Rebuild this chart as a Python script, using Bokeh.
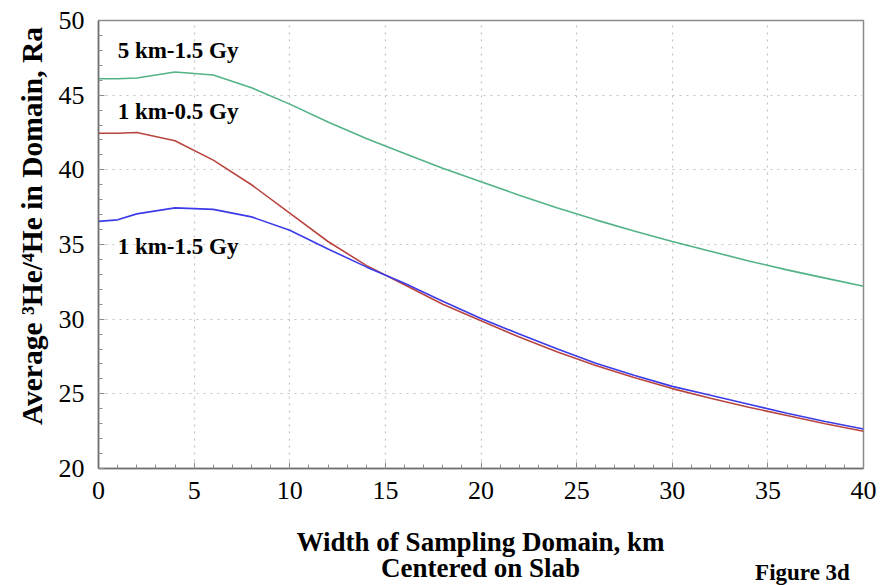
from bokeh.plotting import figure
from bokeh.models import Range1d, SingleIntervalTicker, Label
from bokeh.layouts import column
from bokeh.embed import file_html
from bokeh.resources import INLINE

width_km = [0, 1, 2, 4, 6, 8, 10, 12, 14, 16, 18, 20, 22, 24, 26, 28, 30, 32, 34, 36, 38, 40]
ratio_5km_15gy = [46.1, 46.1, 46.15, 46.55, 46.35, 45.5, 44.4, 43.2, 42.1, 41.1, 40.1, 39.2,
                  38.3, 37.45, 36.65, 35.9, 35.2, 34.55, 33.9, 33.3, 32.75, 32.2]
ratio_1km_05gy = [42.45, 42.45, 42.5, 41.95, 40.65, 39.0, 37.1, 35.2, 33.6, 32.3, 31.0, 29.9,
                  28.8, 27.8, 26.9, 26.1, 25.35, 24.7, 24.1, 23.55, 23.0, 22.5]
ratio_1km_15gy = [36.55, 36.65, 37.05, 37.45, 37.35, 36.85, 35.95, 34.7, 33.5, 32.4, 31.2, 30.05,
                  29.0, 28.0, 27.05, 26.25, 25.5, 24.9, 24.3, 23.7, 23.15, 22.65]

series_labels = ["5 km-1.5 Gy", "1 km-0.5 Gy", "1 km-1.5 Gy"]
label_y = [48.0, 43.9, 34.85]

x_title = ["Width of Sampling Domain, km", "Centered on Slab"]
y_title = "Average \u00b3He/\u2074He in Domain, Ra"
fig_tag = "Figure 3d"

FONT = "Liberation Serif"

p = figure(frame_width=765, frame_height=448, output_backend="svg", toolbar_location=None,
           x_range=Range1d(0, 40), y_range=Range1d(20, 50),
           min_border_left=98, min_border_right=33, min_border_top=20, min_border_bottom=52)
p.background_fill_color = "white"
p.border_fill_color = "white"
p.outline_line_color = "#8c8c8c"
p.outline_line_width = 1.5

p.xaxis.ticker = SingleIntervalTicker(interval=5, num_minor_ticks=5)
p.yaxis.ticker = SingleIntervalTicker(interval=5, num_minor_ticks=5)

for ax in (p.xaxis[0], p.yaxis[0]):
    ax.axis_line_color = "#6e6e6e"
    ax.axis_line_width = 1.5
    ax.major_tick_in = 6
    ax.major_tick_out = 0
    ax.minor_tick_in = 4
    ax.minor_tick_out = 0
    ax.major_tick_line_color = "#8c8c8c"
    ax.minor_tick_line_color = "#8c8c8c"
    ax.major_label_text_font = FONT
    ax.major_label_text_font_size = "26px"
    ax.major_label_text_color = "black"
    ax.axis_label_text_font = FONT
    ax.axis_label_text_font_style = "bold"
    ax.axis_label_text_color = "black"

p.xaxis.major_label_standoff = 13
p.yaxis.major_label_standoff = 14
# leading no-break spaces shift the centred label upward, as in the reference
p.yaxis.axis_label = "\u00a0" * 5 + y_title
p.yaxis.axis_label_text_font_size = "29.5px"
p.yaxis.axis_label_standoff = 8

for g in (p.xgrid[0], p.ygrid[0]):
    g.grid_line_color = "#c4c4c4"
    g.grid_line_dash = "2 5"
    g.grid_line_width = 1.2

p.line(width_km, ratio_5km_15gy, line_color="#52b386", line_width=1.6)
p.line(width_km, ratio_1km_05gy, line_color="#b9453f", line_width=1.6)
p.line(width_km, ratio_1km_15gy, line_color="#3b3bea", line_width=1.6)

for txt, yv in zip(series_labels, label_y):
    p.add_layout(Label(x=1.0, y=yv, text=txt, text_font=FONT, text_font_style="bold",
                       text_font_size="23px", text_baseline="middle", text_align="left",
                       text_color="black"))

# strip below the chart for the x-axis title and the figure tag
# (the column aligns its frame with the chart frame, so x is in page pixels 98..863)
q = figure(width=896, height=65, output_backend="svg", toolbar_location=None,
           x_range=Range1d(98, 863), y_range=Range1d(65, 0),
           x_axis_type=None, y_axis_type=None,
           min_border_left=98, min_border_right=33, min_border_top=0, min_border_bottom=0)
q.outline_line_color = None
q.background_fill_color = "white"
q.border_fill_color = "white"

q.add_layout(Label(x=480, y=21, text=x_title[0], text_font=FONT, text_font_style="bold",
                   text_font_size="27px", text_baseline="middle", text_align="center",
                   text_color="black"))
q.add_layout(Label(x=480, y=47, text=x_title[1], text_font=FONT, text_font_style="bold",
                   text_font_size="27px", text_baseline="middle", text_align="center",
                   text_color="black"))
q.add_layout(Label(x=802, y=52, text=fig_tag, text_font=FONT, text_font_style="bold",
                   text_font_size="23px", text_baseline="middle", text_align="center",
                   text_color="black"))

layout = column(p, q, spacing=0)
open("out.html", "w").write(file_html(layout, INLINE))
